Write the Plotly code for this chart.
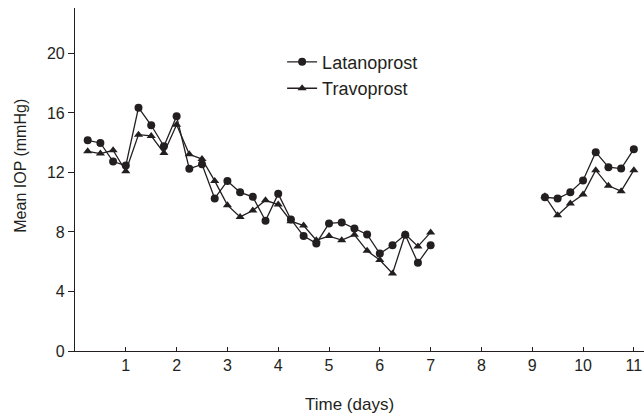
import plotly.graph_objects as go

# Time points (days)
days_1 = [0.25, 0.5, 0.75, 1.0, 1.25, 1.5, 1.75, 2.0, 2.25, 2.5, 2.75, 3.0, 3.25, 3.5,
          3.75, 4.0, 4.25, 4.5, 4.75, 5.0, 5.25, 5.5, 5.75, 6.0, 6.25, 6.5, 6.75, 7.0]
days_2 = [9.25, 9.5, 9.75, 10.0, 10.25, 10.5, 10.75, 11.0]

latanoprost_1 = [14.16, 13.98, 12.73, 12.46, 16.35, 15.17, 13.76, 15.77, 12.24, 12.55, 10.25, 11.43, 10.66, 10.36,
                 8.75, 10.56, 8.84, 7.72, 7.23, 8.57, 8.64, 8.23, 7.83, 6.55, 7.11, 7.81, 5.93, 7.11]
latanoprost_2 = [10.34, 10.25, 10.67, 11.46, 13.36, 12.35, 12.26, 13.56]

travoprost_1 = [13.42, 13.27, 13.49, 12.08, 14.54, 14.45, 13.31, 15.21, 13.22, 12.9, 11.43, 9.8, 9.01, 9.44,
                10.13, 9.84, 8.72, 8.43, 7.45, 7.72, 7.45, 7.81, 6.73, 6.11, 5.21, 7.85, 7.03, 7.97]
travoprost_2 = [10.4, 9.13, 9.91, 10.52, 12.15, 11.1, 10.74, 12.15]

x_ticks = [1, 2, 3, 4, 5, 6, 7, 8, 9, 10, 11]
y_ticks = [0, 4, 8, 12, 16, 20]

x_all = days_1 + [None] + days_2
lat_all = latanoprost_1 + [None] + latanoprost_2
trav_all = travoprost_1 + [None] + travoprost_2

INK = "#231f20"
FONT = "Liberation Sans, Arial, sans-serif"

fig = go.Figure()
fig.add_trace(go.Scatter(
    x=x_all, y=lat_all, name="Latanoprost", mode="lines+markers",
    line=dict(color=INK, width=1.3),
    marker=dict(symbol="circle", size=8, color=INK),
    connectgaps=False,
))
fig.add_trace(go.Scatter(
    x=x_all, y=trav_all, name="Travoprost", mode="lines+markers",
    line=dict(color=INK, width=1.3),
    marker=dict(symbol="triangle-up", size=8, color=INK),
    connectgaps=False,
))

fig.update_layout(
    width=644, height=415,
    margin=dict(l=75, r=0, t=8, b=64, autoexpand=False),
    plot_bgcolor="white", paper_bgcolor="white",
    font=dict(family=FONT, size=16, color=INK),
    showlegend=True,
    legend=dict(x=0.364, y=0.896, xanchor="left", yanchor="top",
                bgcolor="rgba(0,0,0,0)", font=dict(size=18, color=INK),
                tracegroupgap=0, itemwidth=30),
    xaxis=dict(range=[0, 11.2], tickvals=x_ticks, ticktext=[str(v) for v in x_ticks],
               ticks="inside", ticklen=4, tickwidth=1, tickcolor=INK,
               showline=True, linecolor=INK, linewidth=1.2, mirror=False,
               showgrid=False, zeroline=False, tickfont=dict(size=16)),
    yaxis=dict(range=[0, 23.05], tickvals=y_ticks, ticktext=[str(v) for v in y_ticks],
               ticks="outside", ticklen=6, tickwidth=1, tickcolor=INK,
               showline=True, linecolor=INK, linewidth=1.2, mirror=False,
               showgrid=False, zeroline=False, tickfont=dict(size=16)),
    annotations=[
        dict(text="Time (days)", xref="paper", yref="paper", x=0.482, y=-0.157,
             xanchor="center", yanchor="middle", showarrow=False,
             font=dict(size=17, color=INK)),
        dict(text="Mean IOP (mmHg)", xref="paper", yref="paper", x=-0.095, y=0.54,
             xanchor="center", yanchor="middle", textangle=-90, showarrow=False,
             font=dict(size=16, color=INK)),
    ],
)

fig.write_html(
    "out.html",
    config={"displayModeBar": False},
    post_script="document.body.style.margin='0';document.body.style.overflow='hidden';",
)
